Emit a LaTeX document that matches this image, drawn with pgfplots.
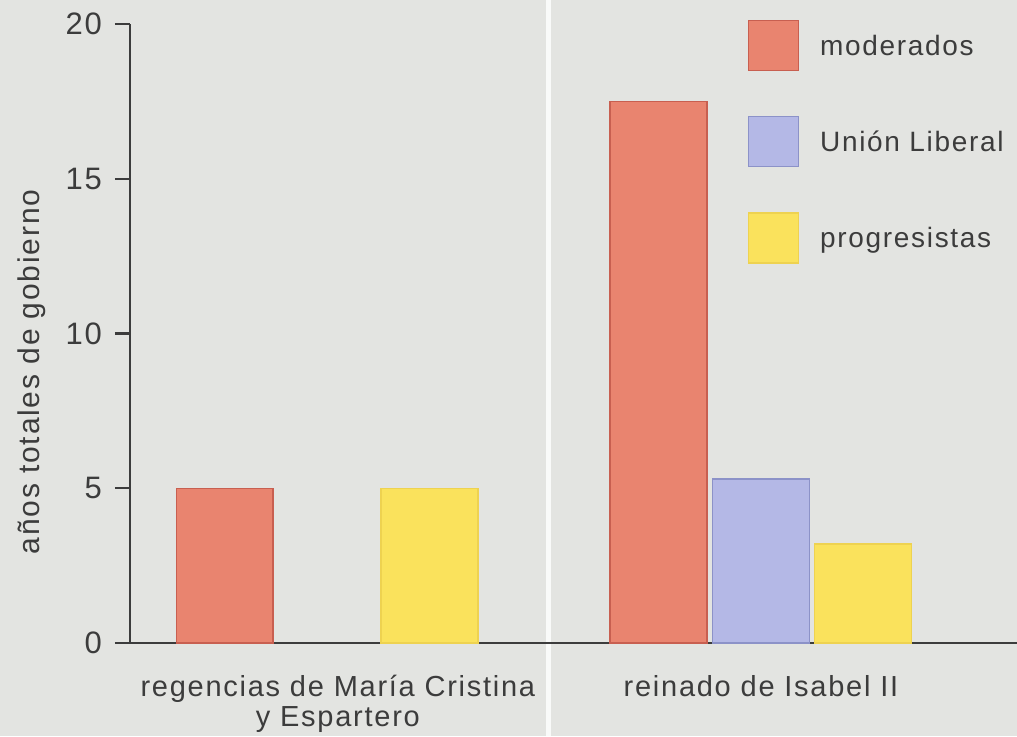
\documentclass[border=0pt]{standalone}
\usepackage{fontspec}
\setmainfont[LetterSpace=6]{Liberation Sans}
\usepackage{pgfplots}
\pgfplotsset{compat=1.18}
\definecolor{bg}{RGB}{227,228,225}
\definecolor{ink}{RGB}{60,60,60}
\definecolor{moder}{RGB}{233,132,111}
\definecolor{moderD}{RGB}{200,95,80}
\definecolor{ulib}{RGB}{180,184,230}
\definecolor{ulibD}{RGB}{140,146,200}
\definecolor{prog}{RGB}{250,226,92}
\definecolor{progD}{RGB}{238,210,80}
\pgfplotsset{sqleg/.style 2 args={legend image code/.code={\draw[fill=#1, draw=#2, line width=0.6pt] (0pt,-12pt) rectangle (25pt,13pt);}}}
\begin{document}
\begin{tikzpicture}
\path[use as bounding box, fill=bg] (0,0) rectangle (508.5pt,368pt);
\fill[white!80!bg] (272.8pt,0) rectangle (275.3pt,368pt);
\node[rotate=90, font=\fontsize{15}{17}\selectfont, text=ink] at (16pt,182pt) {años totales de gobierno};
\begin{axis}[
  at={(65pt,46.5pt)}, anchor=south west,
  scale only axis, width=443.5pt, height=309.5pt,
  xmin=-0.454, xmax=1.590, ymin=0, ymax=20,
  axis x line=bottom, axis y line=left,
  axis line style={-, ink, line width=1.2pt},
  ytick={0,5,10,15,20},
  y tick style={ink, line width=1.2pt},
  tick align=outside, major tick length=7.5pt,
  xtick={0.025,1}, x tick style={draw=none},
  xticklabels={{regencias de María Cristina\\y Espartero}, {reinado de Isabel II}},
  xticklabel style={align=center, font=\fontsize{14.5}{15}\selectfont, text=ink, yshift=-5pt},
  yticklabel style={font=\fontsize{15.5}{18}\selectfont, text=ink, xshift=-3pt},
  /pgf/number format/assume math mode=true,
  legend style={at={(0.6967,1.0065)}, anchor=north west, draw=none, fill=none,
    inner sep=0pt, outer sep=0pt, row sep=22.5pt, column sep=10.5pt,
    nodes={inner sep=0pt}, font=\fontsize{14}{16}\selectfont, text=ink},
  legend cell align=left,
]
\addplot[ybar, bar width=0.2235, bar shift=0pt, fill=moder, draw=moderD, line width=0.6pt, sqleg={moder}{moderD}]
  coordinates {(-0.236,5) (0.764,17.5)};
\addlegendentry{moderados}
\addplot[ybar, bar width=0.2235, bar shift=0pt, fill=ulib, draw=ulibD, line width=0.6pt, sqleg={ulib}{ulibD}]
  coordinates {(1.0,5.3)};
\addlegendentry{Unión Liberal}
\addplot[ybar, bar width=0.2235, bar shift=0pt, fill=prog, draw=progD, line width=0.6pt, sqleg={prog}{progD}]
  coordinates {(0.236,5) (1.236,3.2)};
\addlegendentry{progresistas}
\end{axis}
\end{tikzpicture}
\end{document}
